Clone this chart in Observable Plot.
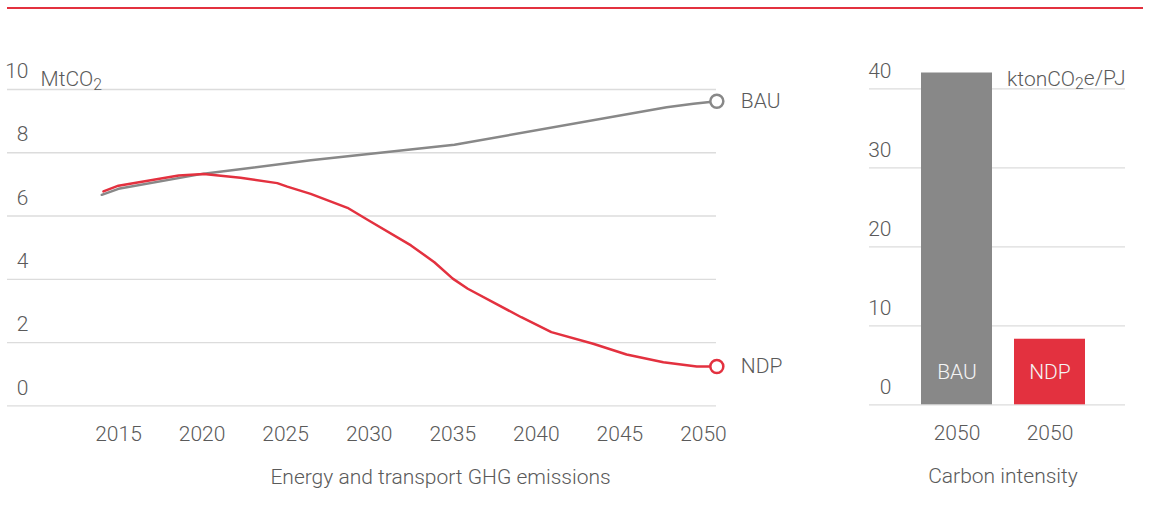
<!DOCTYPE html>
<html><head><meta charset="utf-8">
<script src="https://cdn.jsdelivr.net/npm/d3@7"></script>
<script src="https://cdn.jsdelivr.net/npm/@observablehq/plot@0.6"></script>
<style>
body{margin:0;background:#fff;width:1153px;height:509px;overflow:hidden;position:relative}
#rule{position:absolute;left:7px;top:7px;width:1136px;height:1.5px;background:#e3313f}
#left{position:absolute;left:0;top:0}
#right{position:absolute;left:820px;top:0}
svg text{font-weight:300}
</style></head>
<body><div id="rule"></div><div id="left"></div><div id="right"></div>
<script>
// ---- data ----
const bauYears  = [2014.0, 2015.0, 2020.1, 2026.5, 2035.1, 2047.8, 2049.4, 2050.8];
const bauValues = [6.67, 6.86, 7.34, 7.76, 8.25, 9.44, 9.55, 9.63];
const ndpYears  = [2014.1, 2015.0, 2018.6, 2020.1, 2022.3, 2024.5, 2025.1, 2026.5, 2028.7, 2030.0, 2032.5, 2033.9, 2035.0, 2035.9, 2039.1, 2040.9, 2043.4, 2045.4, 2047.6, 2049.6, 2050.8];
const ndpValues = [6.78, 6.96, 7.28, 7.33, 7.21, 7.04, 6.93, 6.70, 6.26, 5.85, 5.07, 4.54, 4.02, 3.70, 2.80, 2.33, 1.96, 1.62, 1.38, 1.24, 1.24];
const yearTicks = [2015, 2020, 2025, 2030, 2035, 2040, 2045, 2050];
const emissionTicks = [0, 2, 4, 6, 8, 10];
const scenarios = ["BAU", "NDP"];
const intensity2050 = [42.0, 8.3];
const intensityTicks = [0, 10, 20, 30, 40];
const barYearLabel = "2050";
const leftUnit = "MtCO₂";
const rightUnit = "ktonCO₂e/PJ";
const leftTitle = "Energy and transport GHG emissions";
const rightTitle = "Carbon intensity";

// ---- styling ----
const FONT = 'Roboto, "DejaVu Sans Condensed", sans-serif';
const TXT = "#5a5a5a";
const GRID = "#dcdcdc";
const colorScale = {domain: scenarios, range: ["#888888", "#e3313f"]};
const style = {fontFamily: FONT, fontSize: "21px", color: TXT, background: "transparent", overflow: "visible"};

const emis = [
  ...bauYears.map((y, i) => ({scenario: "BAU", year: y, value: bauValues[i]})),
  ...ndpYears.map((y, i) => ({scenario: "NDP", year: y, value: ndpValues[i]}))
];
const ends = [
  {scenario: "BAU", year: bauYears[bauYears.length - 1], value: bauValues[bauValues.length - 1]},
  {scenario: "NDP", year: ndpYears[ndpYears.length - 1], value: ndpValues[ndpValues.length - 1]}
];
const bars = scenarios.map((s, i) => ({scenario: s, value: intensity2050[i]}));

function subscript(svg) {
  d3.select(svg).selectAll("text").each(function () {
    const t = this.textContent;
    if (!t.includes("₂")) return;
    const [a, b] = t.split("₂");
    const sel = d3.select(this);
    sel.text(null);
    sel.append("tspan").text(a);
    sel.append("tspan").attr("font-size", "0.75em").attr("dy", "0.22em").text("2");
    if (b) sel.append("tspan").attr("dy", "-0.22em").text(b);
  });
  return svg;
}

const left = Plot.plot({
  width: 820, height: 509,
  marginLeft: 7, marginRight: 104, marginTop: 89, marginBottom: 103.7,
  x: {domain: [2008.36, 2050.78]},
  y: {domain: [0, 10]},
  color: colorScale,
  style,
  marks: [
    Plot.gridY(emissionTicks, {stroke: GRID, strokeOpacity: 1, strokeWidth: 1.3}),
    Plot.axisY(emissionTicks, {tickSize: 0, tickPadding: 0, dx: 21, dy: -18, label: null}),
    Plot.axisX(yearTicks, {tickSize: 0, tickPadding: 20, tickFormat: d => String(d), label: null}),
    Plot.line(emis, {x: "year", y: "value", z: "scenario", stroke: "scenario", strokeWidth: 2.5}),
    Plot.dot(ends, {x: "year", y: "value", r: 6.5, stroke: "scenario", strokeWidth: 2.5, fill: "white"}),
    Plot.text(ends, {x: "year", y: "value", text: "scenario", dx: 24, textAnchor: "start"}),
    Plot.text([leftUnit], {frameAnchor: "top-left", dx: 33, dy: -18, textAnchor: "start"}),
    Plot.text([leftTitle], {frameAnchor: "bottom", dx: 78.5, dy: 78})
  ]
});
document.getElementById("left").append(subscript(left));

const right = Plot.plot({
  width: 333, height: 509,
  marginLeft: 49, marginRight: 28, marginTop: 88.3, marginBottom: 104.7,
  x: {domain: scenarios, paddingInner: 0.234, paddingOuter: 0.479, align: 0.565},
  y: {domain: [0, 40]},
  color: colorScale,
  style,
  marks: [
    Plot.gridY(intensityTicks, {stroke: GRID, strokeOpacity: 1, strokeWidth: 1.3}),
    Plot.axisY(intensityTicks, {tickSize: 0, tickPadding: 0, dx: 22, dy: -18, label: null}),
    Plot.axisX({tickSize: 0, tickPadding: 20, tickFormat: () => barYearLabel, label: null}),
    Plot.barY(bars, {x: "scenario", y: "value", fill: "scenario"}),
    Plot.text(bars, {x: "scenario", y: 0, text: "scenario", dy: -33, fill: "#f4f4f4"}),
    Plot.text([rightUnit], {frameAnchor: "top-right", textAnchor: "end", dy: -18}),
    Plot.text([rightTitle], {frameAnchor: "bottom", dx: 5.5, dy: 78})
  ]
});
document.getElementById("right").append(subscript(right));
</script>
</body></html>
